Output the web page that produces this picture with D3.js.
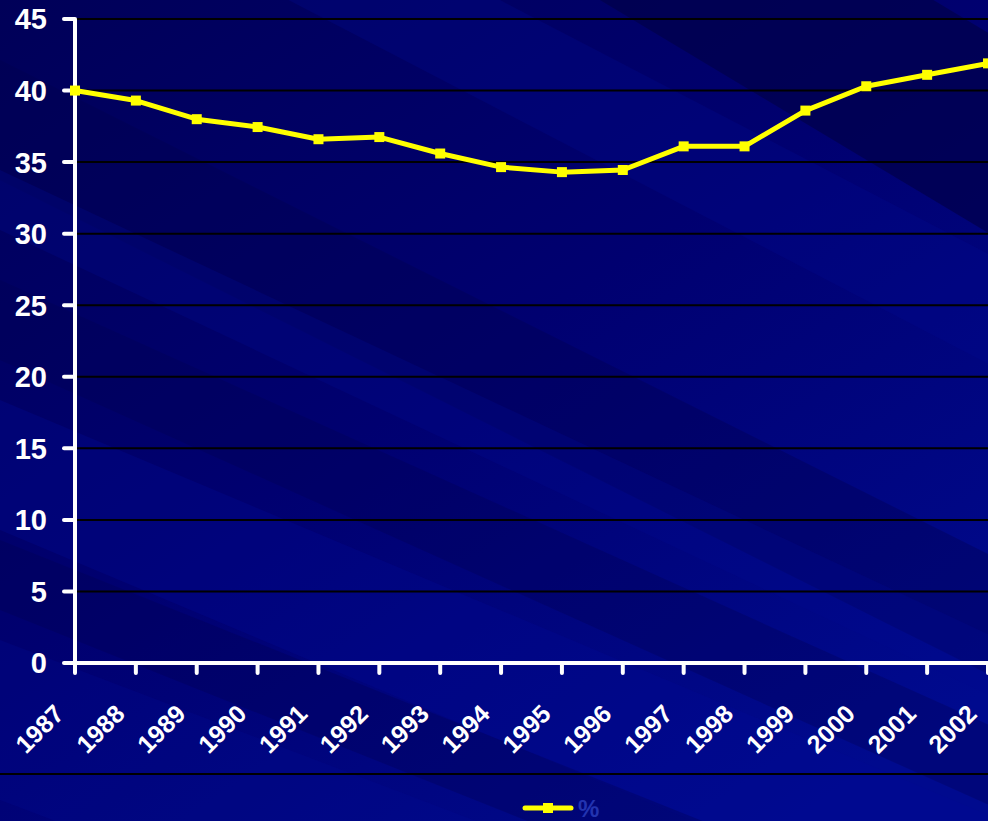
<!DOCTYPE html>
<html>
<head>
<meta charset="utf-8">
<script src="https://cdn.jsdelivr.net/npm/d3@7"></script>
<style>
  body { margin: 0; background: #00006e; }
  svg { display: block; }
</style>
</head>
<body>
<div id="chart"></div>
<script>
// data
const years = ["1987", "1988", "1989", "1990", "1991", "1992", "1993", "1994",
               "1995", "1996", "1997", "1998", "1999", "2000", "2001", "2002"];
const values = [40.0, 39.3, 38.0, 37.45, 36.6, 36.75, 35.6, 34.65,
                34.3, 34.45, 36.1, 36.1, 38.6, 40.3, 41.1, 41.9];
const yTicks = [0, 5, 10, 15, 20, 25, 30, 35, 40, 45];
const legendLabel = "%";

const width = 988, height = 821;

const svg = d3.select("#chart").append("svg")
    .attr("width", width)
    .attr("height", height);

// background: navy gradient with slanted streaks
const defs = svg.append("defs");
const grad = defs.append("linearGradient")
    .attr("id", "bg")
    .attr("x1", "0").attr("y1", "0").attr("x2", "0.8").attr("y2", "1");
grad.append("stop").attr("offset", "0%").attr("stop-color", "#000058");
grad.append("stop").attr("offset", "50%").attr("stop-color", "#000070");
grad.append("stop").attr("offset", "100%").attr("stop-color", "#000a8e");

svg.append("rect")
    .attr("width", width).attr("height", height)
    .attr("fill", "url(#bg)");

// streaks: [y at x=0, slope, thickness, colour, opacity]
const streaks = [
    [-560, 0.6, 200, "#00004a", 0.7],
    [-260, 0.52, 110, "#000a90", 0.3],
    [60, 0.5, 120, "#00004c", 0.35],
    [170, 0.47, 60, "#000a90", 0.3],
    [280, 0.45, 80, "#00004e", 0.3],
    [400, 0.42, 130, "#000a94", 0.3],
    [540, 0.4, 70, "#000050", 0.3],
    [640, 0.38, 160, "#000a94", 0.25]
];
svg.append("g").selectAll("path")
    .data(streaks)
    .join("path")
    .attr("d", d => {
        const [y0, s, t] = d;
        return `M0,${y0} L${width},${y0 + s * width} L${width},${y0 + s * width + t} L0,${y0 + t} Z`;
    })
    .attr("fill", d => d[3])
    .attr("opacity", d => d[4]);

// scales
const x = d3.scalePoint().domain(years).range([75, 988]);
const y = d3.scaleLinear().domain([0, 45]).range([663, 19]);

// gridlines
svg.append("g").selectAll("line")
    .data(yTicks.filter(t => t > 0))
    .join("line")
    .attr("x1", 75).attr("x2", width)
    .attr("y1", d => y(d)).attr("y2", d => y(d))
    .attr("stroke", "#000000")
    .attr("stroke-width", 2);

// y axis
const yAxis = svg.append("g");
yAxis.append("line")
    .attr("x1", 75).attr("x2", 75)
    .attr("y1", y(45)).attr("y2", y(0))
    .attr("stroke", "#ffffff").attr("stroke-width", 4);
yAxis.selectAll("line.tick")
    .data(yTicks)
    .join("line")
    .attr("class", "tick")
    .attr("x1", 64).attr("x2", 75)
    .attr("y1", d => y(d)).attr("y2", d => y(d))
    .attr("stroke", "#ffffff").attr("stroke-width", 4)
    .attr("stroke-linecap", "round");
yAxis.selectAll("text")
    .data(yTicks)
    .join("text")
    .attr("x", 47)
    .attr("y", d => y(d))
    .attr("dy", "0.36em")
    .attr("text-anchor", "end")
    .attr("fill", "#ffffff")
    .attr("font-family", "Liberation Sans, Arial, sans-serif")
    .attr("font-weight", "bold")
    .attr("font-size", 29)
    .text(d => d);

// x axis
const xAxis = svg.append("g");
xAxis.append("line")
    .attr("x1", 75).attr("x2", width)
    .attr("y1", y(0)).attr("y2", y(0))
    .attr("stroke", "#ffffff").attr("stroke-width", 4);
xAxis.selectAll("line.tick")
    .data(years)
    .join("line")
    .attr("class", "tick")
    .attr("x1", d => x(d)).attr("x2", d => x(d))
    .attr("y1", y(0)).attr("y2", y(0) + 10)
    .attr("stroke", "#ffffff").attr("stroke-width", 4)
    .attr("stroke-linecap", "round");
xAxis.selectAll("text")
    .data(years)
    .join("text")
    .attr("transform", d => `translate(${x(d) - 22},${y(0) + 40}) rotate(-45)`)
    .attr("text-anchor", "end")
    .attr("dy", "0.7em")
    .attr("fill", "#ffffff")
    .attr("font-family", "Liberation Sans, Arial, sans-serif")
    .attr("font-weight", "bold")
    .attr("font-size", 25)
    .text(d => d);

// separator line above legend
svg.append("line")
    .attr("x1", 0).attr("x2", width)
    .attr("y1", 774).attr("y2", 774)
    .attr("stroke", "#000000").attr("stroke-width", 2);

// series line
const line = d3.line()
    .x((d, i) => x(years[i]))
    .y(d => y(d));

svg.append("path")
    .datum(values)
    .attr("d", line)
    .attr("fill", "none")
    .attr("stroke", "#ffff00")
    .attr("stroke-width", 5)
    .attr("stroke-linejoin", "round");

svg.append("g").selectAll("rect")
    .data(values)
    .join("rect")
    .attr("x", (d, i) => x(years[i]) - 5)
    .attr("y", d => y(d) - 5)
    .attr("width", 10).attr("height", 10)
    .attr("fill", "#ffff00");

// legend
const legend = svg.append("g");
legend.append("line")
    .attr("x1", 525).attr("x2", 571)
    .attr("y1", 808).attr("y2", 808)
    .attr("stroke", "#ffff00").attr("stroke-width", 5)
    .attr("stroke-linecap", "round");
legend.append("rect")
    .attr("x", 543).attr("y", 803)
    .attr("width", 10).attr("height", 10)
    .attr("fill", "#ffff00");
legend.append("text")
    .attr("x", 578).attr("y", 817)
    .attr("fill", "#2233b0")
    .attr("font-family", "Liberation Sans, Arial, sans-serif")
    .attr("font-weight", "bold")
    .attr("font-size", 24)
    .text(legendLabel);
</script>
</body>
</html>
